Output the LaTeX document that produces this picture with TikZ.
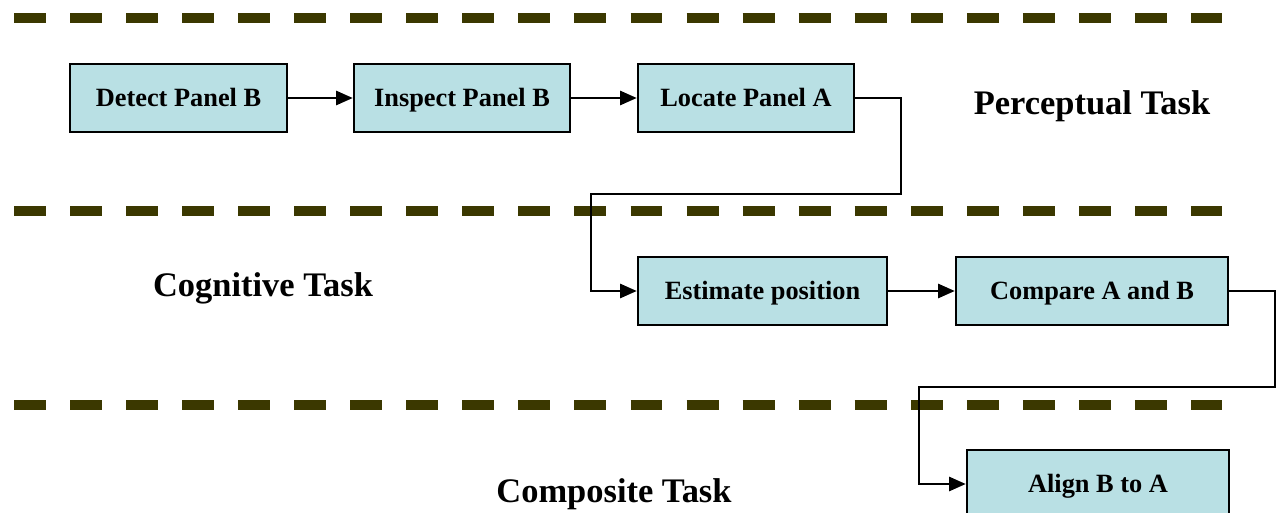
\documentclass[tikz,border=0pt]{standalone}
\usepackage{fontspec}
\setmainfont{Liberation Serif}
\usetikzlibrary{arrows.meta}
\definecolor{laneline}{RGB}{59,56,0}
\definecolor{boxfill}{RGB}{185,224,228}

\begin{document}
\begin{tikzpicture}[x=0.02cm,y=-0.02cm]
	\useasboundingbox (0,0) rectangle (1279,513);
	\tikzstyle{LaneStyle}=[laneline,line width=5.7pt,dash pattern=on 18.2pt off 13.7pt]
	\tikzstyle{TaskStyle}=[draw,line width=1.4pt,fill=boxfill,minimum height=1.36cm,
		font=\fontsize{15}{18}\selectfont\bfseries,inner sep=0pt,
		text height=12pt,text depth=2pt]
	\tikzstyle{TitleStyle}=[anchor=base,font=\fontsize{19.6}{23}\selectfont\bfseries]
	\tikzstyle{FlowStyle}=[line width=1.4pt,-{Triangle[length=9.5pt,width=8pt]}]
	\foreach \y in {18,211,405}
		\draw[LaneStyle] (14,\y) -- (1222,\y);
	\node[TaskStyle,minimum width=4.34cm] (detect) at (178.5,98) {Detect Panel B};
	\node[TaskStyle,minimum width=4.32cm] (inspect) at (462,98) {Inspect Panel B};
	\node[TaskStyle,minimum width=4.32cm] (locate) at (746,98) {Locate Panel A};
	\node[TaskStyle,minimum width=4.98cm] (estimate) at (762.5,291) {Estimate position};
	\node[TaskStyle,minimum width=5.44cm] (compare) at (1092,291) {Compare A and B};
	\node[TaskStyle,minimum width=5.24cm] (align) at (1098,484) {Align B to A};
	\node[TitleStyle] (perceptual) at (1092,115) {Perceptual Task};
	\node[TitleStyle] (cognitive) at (263,297) {Cognitive Task};
	\node[TitleStyle] (composite) at (614,502) {Composite Task};
	\draw[FlowStyle] (detect) -- (inspect);
	\draw[FlowStyle] (inspect) -- (locate);
	\draw[FlowStyle] (locate.east) -| (901,194) -| (591,291) -- (estimate.west);
	\draw[FlowStyle] (estimate) -- (compare);
	\draw[FlowStyle] (compare.east) -| (1275,387) -| (919,484) -- (align.west);
\end{tikzpicture}
\end{document}
